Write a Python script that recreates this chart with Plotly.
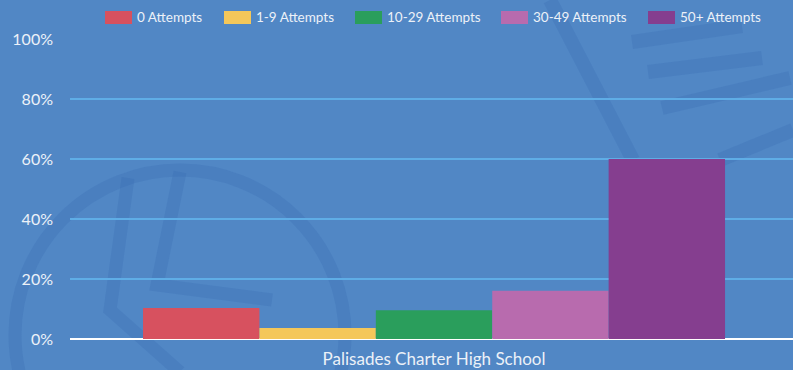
import plotly.graph_objects as go

# Data
school = ["Palisades Charter High School"]
series_names = ["0 Attempts", "1-9 Attempts", "10-29 Attempts", "30-49 Attempts", "50+ Attempts"]
series_values = [10.3, 3.7, 9.6, 16.1, 60.0]
series_colors = ["#D7515F", "#F4C75A", "#2A9E5C", "#B86BAE", "#853E8F"]
y_ticks = [0, 20, 40, 60, 80, 100]
y_tick_labels = ["0%", "20%", "40%", "60%", "80%", "100%"]

W, H = 793, 370
M_L, M_R, M_T, M_B = 70, 0, 39, 31
BG = "#5187C5"
FONT = "Lato"
TXT = "#ECF1F8"

fig = go.Figure()
for name, val, col in zip(series_names, series_values, series_colors):
    fig.add_trace(go.Bar(
        x=school, y=[val], name=name, marker=dict(color=col, line=dict(width=0)),
        showlegend=False, hoverinfo="name+y",
    ))


def px_x(p):
    return (p - M_L) / 723


def px_y(p):
    return (339 - p) / 300


# Faint background logo shapes
logo = "rgba(52,100,172,0.22)"
shapes = [
    dict(type="circle", xref="paper", yref="paper",
         x0=px_x(15), x1=px_x(345), y0=px_y(500), y1=px_y(170),
         line=dict(color=logo, width=13), layer="below"),
    dict(type="path", xref="paper", yref="paper",
         path=f"M {px_x(180)} {px_y(172)} L {px_x(157)} {px_y(285)} L {px_x(272)} {px_y(300)}",
         line=dict(color=logo, width=13), layer="below"),
    dict(type="path", xref="paper", yref="paper",
         path=f"M {px_x(128)} {px_y(178)} L {px_x(110)} {px_y(310)} L {px_x(180)} {px_y(372)}",
         line=dict(color=logo, width=13), layer="below"),
]
for (xa, ya, xb, yb) in [(550, 0, 633, 160), (632, 42, 742, 26), (648, 72, 762, 58),
                         (662, 108, 790, 78), (720, 160, 793, 130)]:
    shapes.append(dict(type="line", xref="paper", yref="paper",
                       x0=px_x(xa), x1=px_x(xb), y0=px_y(ya), y1=px_y(yb),
                       line=dict(color=logo, width=14), layer="below"))

# Legend drawn along the top
legend_px = [105, 224, 355, 501, 648]
annotations = []
for name, col, px in zip(series_names, series_colors, legend_px):
    shapes.append(dict(type="rect", xref="paper", yref="paper",
                       x0=px_x(px), x1=px_x(px + 27), y0=px_y(24), y1=px_y(11),
                       fillcolor=col, line=dict(width=0)))
    annotations.append(dict(xref="paper", yref="paper", x=px_x(px + 30),
                            y=px_y(17.5), xanchor="left", yanchor="middle",
                            text=name, showarrow=False,
                            font=dict(family=FONT, size=13.5, color=TXT)))

fig.update_layout(
    width=W, height=H,
    margin=dict(l=M_L, r=M_R, t=M_T, b=M_B, pad=0),
    paper_bgcolor=BG, plot_bgcolor=BG,
    barmode="group", bargap=0.195, bargroupgap=0,
    showlegend=False,
    shapes=shapes, annotations=annotations,
    font=dict(family=FONT, color=TXT),
    xaxis=dict(range=[-0.5035, 0.4965], showgrid=False, zeroline=False, showline=False,
               ticks="", tickfont=dict(family=FONT, size=17, color=TXT),
               ticklabelstandoff=8),
    yaxis=dict(range=[0, 100], tickvals=y_ticks, ticktext=y_tick_labels,
               showgrid=True, gridcolor="#5FADE6", gridwidth=2,
               zeroline=True, zerolinecolor="#FFFFFF", zerolinewidth=2,
               showline=False, ticks="",
               tickfont=dict(family=FONT, size=16, color=TXT),
               ticklabelstandoff=16),
)

fig.write_html("out.html")
